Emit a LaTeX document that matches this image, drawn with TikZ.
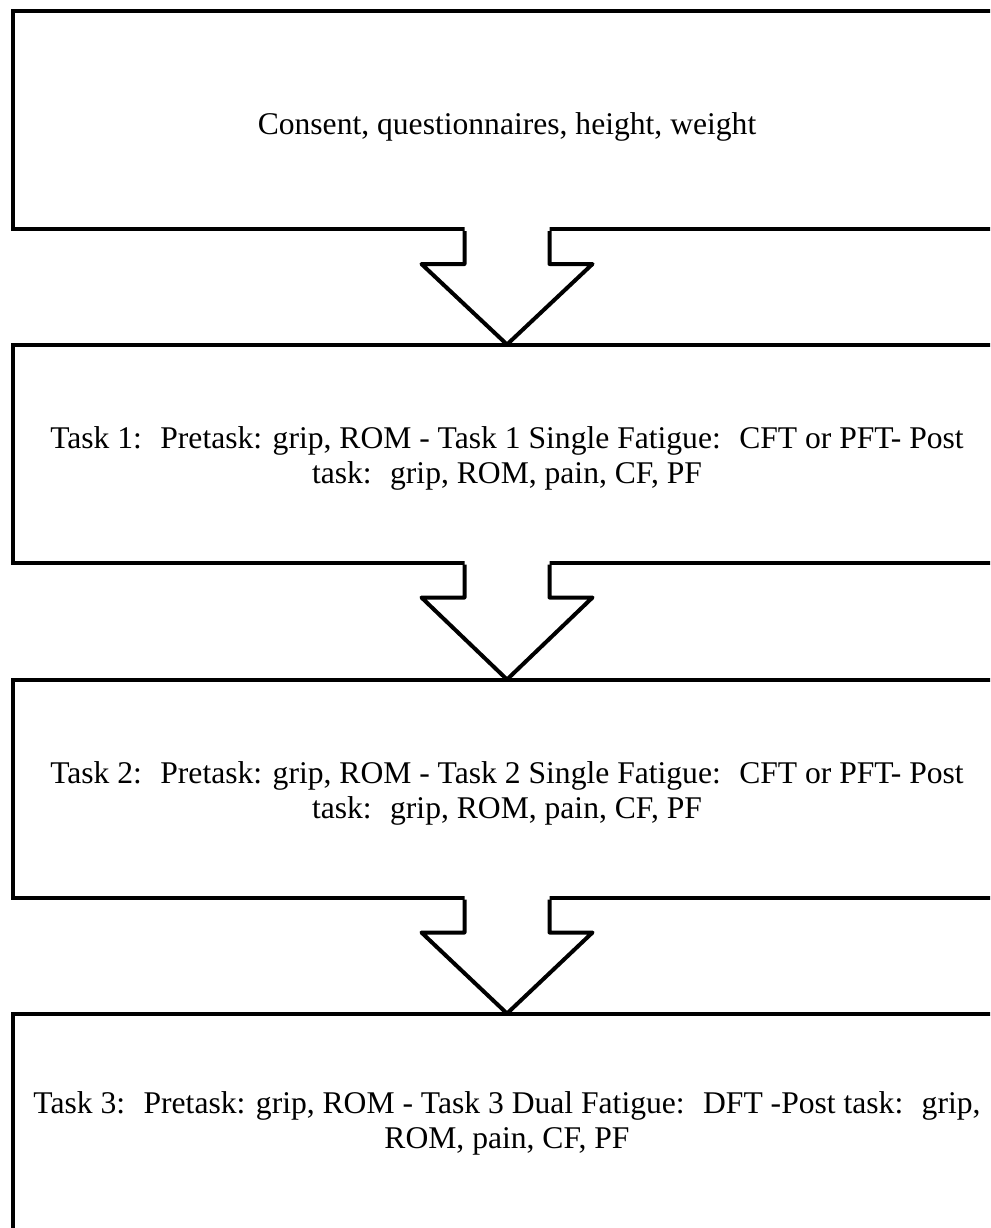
\documentclass[tikz,border=0pt]{standalone}
\usepackage{fontspec}
\setmainfont{Liberation Serif}
\usetikzlibrary{calc}
\begin{document}
\begin{tikzpicture}[x=1pt,y=-1pt,
  stage/.style={draw, line width=4pt, minimum width=988pt, minimum height=218pt, inner sep=0pt},
  caption/.style={align=center, inner sep=0pt, font=\fontsize{31.6}{34.5}\selectfont},
  flow/.style={draw, line width=4pt, line join=round},
]
\useasboundingbox (0,0) rectangle (990,1228);
\clip (0,0) rectangle (990,1228);

% stages of the protocol
\node[stage] (b1) at (507,120)    {};
\node[stage] (b2) at (507,453.5)  {};
\node[stage] (b3) at (507,788.5)  {};
\node[stage] (b4) at (507,1122.5) {};

\node[caption] (t1) at ($(b1.center)+(0,7)$) {Consent, questionnaires, height, weight};
\node[caption] (t2) at ($(b2.center)+(0,5)$) {Task 1:~ Pretask: grip, ROM - Task 1 Single Fatigue:~ CFT or PFT- Post\\task:~ grip, ROM, pain, CF, PF};
\node[caption] (t3) at ($(b3.center)+(0,5)$) {Task 2:~ Pretask: grip, ROM - Task 2 Single Fatigue:~ CFT or PFT- Post\\task:~ grip, ROM, pain, CF, PF};
\node[caption] (t4) at ($(b4.center)+(0,1)$) {Task 3:~ Pretask: grip, ROM - Task 3 Dual Fatigue:~ DFT -Post task:~ grip,\\ROM, pain, CF, PF};

% hollow block arrows between consecutive stages
\foreach \a/\b in {b1/b2, b2/b3, b3/b4} {
  \fill[white] ($(\a.south)+(-42.5,-4)$) -- ($(\a.south)+(-42.5,33)$)
    -- ($(\a.south)+(-85.5,33)$) -- ($(\b.north)+(0,2)$)
    -- ($(\a.south)+(85.5,33)$) -- ($(\a.south)+(42.5,33)$)
    -- ($(\a.south)+(42.5,-4)$) -- cycle;
  \draw[flow] ($(\a.south)+(-42.5,0)$) -- ($(\a.south)+(-42.5,33)$)
    -- ($(\a.south)+(-85.5,33)$) -- ($(\b.north)+(0,2)$)
    -- ($(\a.south)+(85.5,33)$) -- ($(\a.south)+(42.5,33)$)
    -- ($(\a.south)+(42.5,0)$);
}
\end{tikzpicture}
\end{document}
